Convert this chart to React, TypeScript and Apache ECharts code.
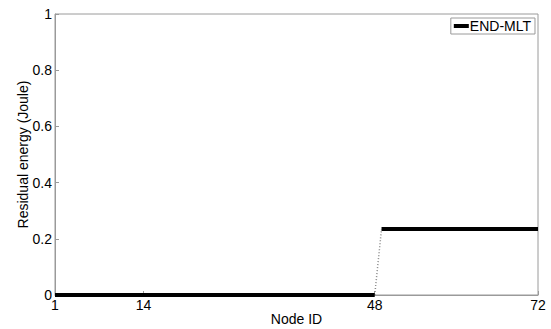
import React, { useEffect, useRef } from "react";
import * as echarts from "echarts";

const nodeIds: number[] = [
  1, 2, 3, 4, 5, 6, 7, 8, 9, 10, 11, 12, 13, 14, 15, 16, 17, 18, 19, 20, 21, 22, 23, 24,
  25, 26, 27, 28, 29, 30, 31, 32, 33, 34, 35, 36, 37, 38, 39, 40, 41, 42, 43, 44, 45, 46, 47, 48,
  49, 50, 51, 52, 53, 54, 55, 56, 57, 58, 59, 60, 61, 62, 63, 64, 65, 66, 67, 68, 69, 70, 71, 72,
];

const residualEnergy: number[] = [
  0, 0, 0, 0, 0, 0, 0, 0, 0, 0, 0, 0, 0, 0, 0, 0, 0, 0, 0, 0, 0, 0, 0, 0,
  0, 0, 0, 0, 0, 0, 0, 0, 0, 0, 0, 0, 0, 0, 0, 0, 0, 0, 0, 0, 0, 0, 0, 0,
  0.235, 0.235, 0.235, 0.235, 0.235, 0.235, 0.235, 0.235, 0.235, 0.235, 0.235, 0.235,
  0.235, 0.235, 0.235, 0.235, 0.235, 0.235, 0.235, 0.235, 0.235, 0.235, 0.235, 0.235,
];

const xTicks: number[] = [1, 14, 48, 72];
const seriesName = "END-MLT";
const xTitle = "Node ID";
const yTitle = "Residual energy (Joule)";

const FONT = "'Liberation Sans', Arial, sans-serif";

export default function App() {
  const ref = useRef<HTMLDivElement>(null);
  useEffect(() => {
    if (!ref.current) return;
    const chart = echarts.init(ref.current, undefined, { renderer: "svg" });

    // split into flat segments; steep jumps drawn as thin dotted connectors
    const flat: (number | null)[][] = [];
    const jumps: (number | null)[][] = [];
    for (let i = 0; i < nodeIds.length; i++) {
      if (i > 0 && Math.abs(residualEnergy[i] - residualEnergy[i - 1]) > 0.05) {
        flat.push([null, null]);
        if (jumps.length) jumps.push([null, null]);
        jumps.push([nodeIds[i - 1], residualEnergy[i - 1]]);
        jumps.push([nodeIds[i], residualEnergy[i]]);
      }
      flat.push([nodeIds[i], residualEnergy[i]]);
    }

    const axisLineColor = "#9a9a9a";
    chart.setOption({
      animation: false,
      textStyle: { fontFamily: FONT },
      grid: {
        left: 55,
        right: 13,
        top: 14,
        bottom: 34,
        containLabel: false,
        outerBoundsMode: "none",
        show: true,
        borderColor: axisLineColor,
        borderWidth: 1,
      },
      legend: {
        data: [{ name: seriesName, icon: "rect" }],
        right: 16,
        top: 18,
        itemWidth: 15,
        itemHeight: 4,
        itemGap: 4,
        padding: [1, 4, 1, 3],
        borderColor: axisLineColor,
        borderWidth: 1,
        backgroundColor: "#fff",
        borderRadius: 0,
        textStyle: { fontFamily: FONT, fontSize: 14, color: "#000", padding: [0, 0, 0, -4] },
      },
      xAxis: {
        type: "value",
        min: 1,
        max: 72,
        name: xTitle,
        nameLocation: "middle",
        nameGap: 17,
        nameMoveOverlap: false,
        nameTextStyle: { fontFamily: FONT, fontSize: 14, color: "#000" },
        axisLine: { show: true, lineStyle: { color: axisLineColor } },
        axisTick: { show: true, inside: true, length: 4, customValues: xTicks, lineStyle: { color: axisLineColor } },
        axisLabel: { customValues: xTicks, fontFamily: FONT, fontSize: 14, color: "#000", margin: 3 },
        splitLine: { show: false },
      },
      yAxis: {
        type: "value",
        min: 0,
        max: 1,
        interval: 0.2,
        name: yTitle,
        nameLocation: "middle",
        nameGap: 25,
        nameMoveOverlap: false,
        nameTextStyle: { fontFamily: FONT, fontSize: 14, color: "#000" },
        axisLine: { show: true, lineStyle: { color: axisLineColor } },
        axisTick: { show: true, inside: true, length: 4, lineStyle: { color: axisLineColor } },
        axisLabel: { fontFamily: FONT, fontSize: 14, color: "#000", margin: 3 },
        splitLine: { show: false },
      },
      series: [
        {
          name: seriesName,
          type: "line",
          data: flat,
          showSymbol: false,
          symbol: "none",
          connectNulls: false,
          lineStyle: { color: "#000", width: 4 },
          itemStyle: { color: "#000" },
          z: 3,
        },
        {
          name: "jump",
          type: "line",
          data: jumps,
          showSymbol: false,
          symbol: "none",
          lineStyle: { color: "#888", width: 1.5, type: [1, 2] },
          z: 2,
        },
      ],
    });
    return () => chart.dispose();
  }, []);
  return (
    <div
      ref={ref}
      style={{ position: "absolute", left: 0, top: 0, width: 551, height: 329, background: "#fff" }}
    />
  );
}
